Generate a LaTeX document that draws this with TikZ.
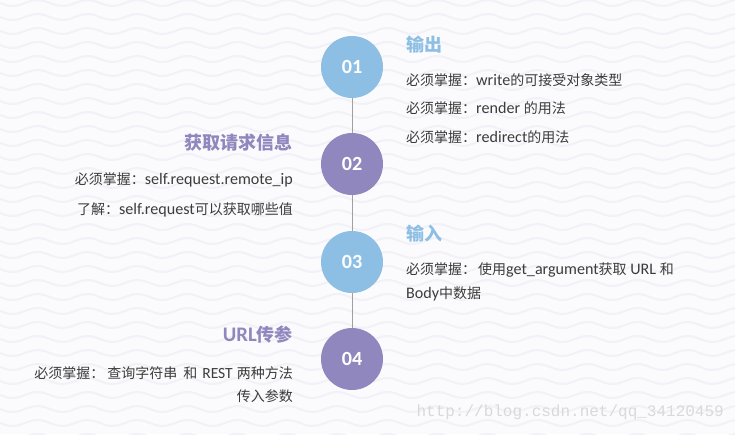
\documentclass[tikz,border=0pt]{standalone}
\usepackage{fontspec}
\setmainfont[Scale=1.15]{Carlito}
\newfontfamily\zh{Noto Sans CJK SC}
\newfontfamily\wmark{Liberation Mono}
\newcommand{\cn}[1]{{\zh #1}}
\definecolor{stepblue}{RGB}{141,190,228}
\definecolor{steppurple}{RGB}{143,135,189}
\definecolor{bodygray}{RGB}{60,60,60}
\definecolor{axisgray}{RGB}{160,160,160}
\definecolor{wavecol}{RGB}{241,241,247}
\definecolor{paper}{RGB}{251,251,253}
\tikzset{
  stepdot/.style={circle, minimum size=62pt, inner sep=0pt, text=white,
    font=\fontsize{17.5}{18}\selectfont\bfseries},
  headline/.style={inner sep=0pt, font=\fontsize{18}{20}\selectfont\zh\bfseries},
  bodyline/.style={inner sep=0pt, text=bodygray, font=\fontsize{14}{16}\selectfont},
}
\begin{document}
\begin{tikzpicture}[x=1pt, y=-1pt]
  \useasboundingbox (0,0) rectangle (735,434);
  \fill[paper] (0,0) rectangle (735,434);
  % wavy backdrop
  \begin{scope}
    \clip (0,0) rectangle (735,434);
    \foreach \row in {0,...,31}
      \draw[wavecol, line width=2pt]
        plot[domain=-10:745, samples=160, smooth] (\x, {\row*14 + 3 + 3*sin(\x/50*360)});
  \end{scope}

  \node[stepdot, fill=stepblue]   (c1) at (352,67)  {01};
  \node[stepdot, fill=steppurple] (c2) at (352,164) {02};
  \node[stepdot, fill=stepblue]   (c3) at (352,262) {03};
  \node[stepdot, fill=steppurple] (c4) at (352,359) {04};
  \draw[axisgray, line width=1pt] (c1) -- (c2) -- (c3) -- (c4);

  % right column
  \node[headline, text=stepblue, anchor=west] (h1) at (406,45) {输出};
  \node[bodyline, anchor=west] (b1a) at (406,80)  {\cn{必须掌握：}write\cn{的可接受对象类型}};
  \node[bodyline, anchor=west] (b1b) at (406,108) {\cn{必须掌握：}render \cn{的用法}};
  \node[bodyline, anchor=west] (b1c) at (406,137) {\cn{必须掌握：}redirect\cn{的用法}};

  \node[headline, text=stepblue, anchor=west] (h3) at (406,234) {输入};
  \node[bodyline, anchor=west] (b3a) at (406,270) {\cn{必须掌握：\hspace{2pt}使用}get\_argument\cn{获取} URL \cn{和}};
  \node[bodyline, anchor=west] (b3b) at (406,294) {Body\cn{中数据}};

  % left column
  \node[headline, text=steppurple, anchor=east] (h2) at (293,143) {获取请求信息};
  \node[bodyline, anchor=east] (b2a) at (293,180) {\cn{必须掌握：}self.request.remote\_ip};
  \node[bodyline, anchor=east] (b2b) at (293,210) {\cn{了解：}self.request\cn{可以获取哪些值}};

  \node[headline, text=steppurple, anchor=east] (h4) at (293,335) {{\rmfamily URL}传参};
  \node[bodyline, anchor=east] (b4a) at (293,373)
    {\cn{必须掌握：\hspace{3pt}查询字符串\hspace{6pt}和}\hspace{5pt}{\fontsize{13.5}{14}\selectfont REST}\hspace{4pt}\cn{两种方法}};
  \node[bodyline, anchor=east] (b4b) at (293,396) {\cn{传入参数}};

  \node[anchor=east, inner sep=0pt, text=black!15, font=\wmark\fontsize{16}{16}\selectfont]
    (mark) at (724,412) {http://blog.csdn.net/qq\_34120459};
\end{tikzpicture}
\end{document}
